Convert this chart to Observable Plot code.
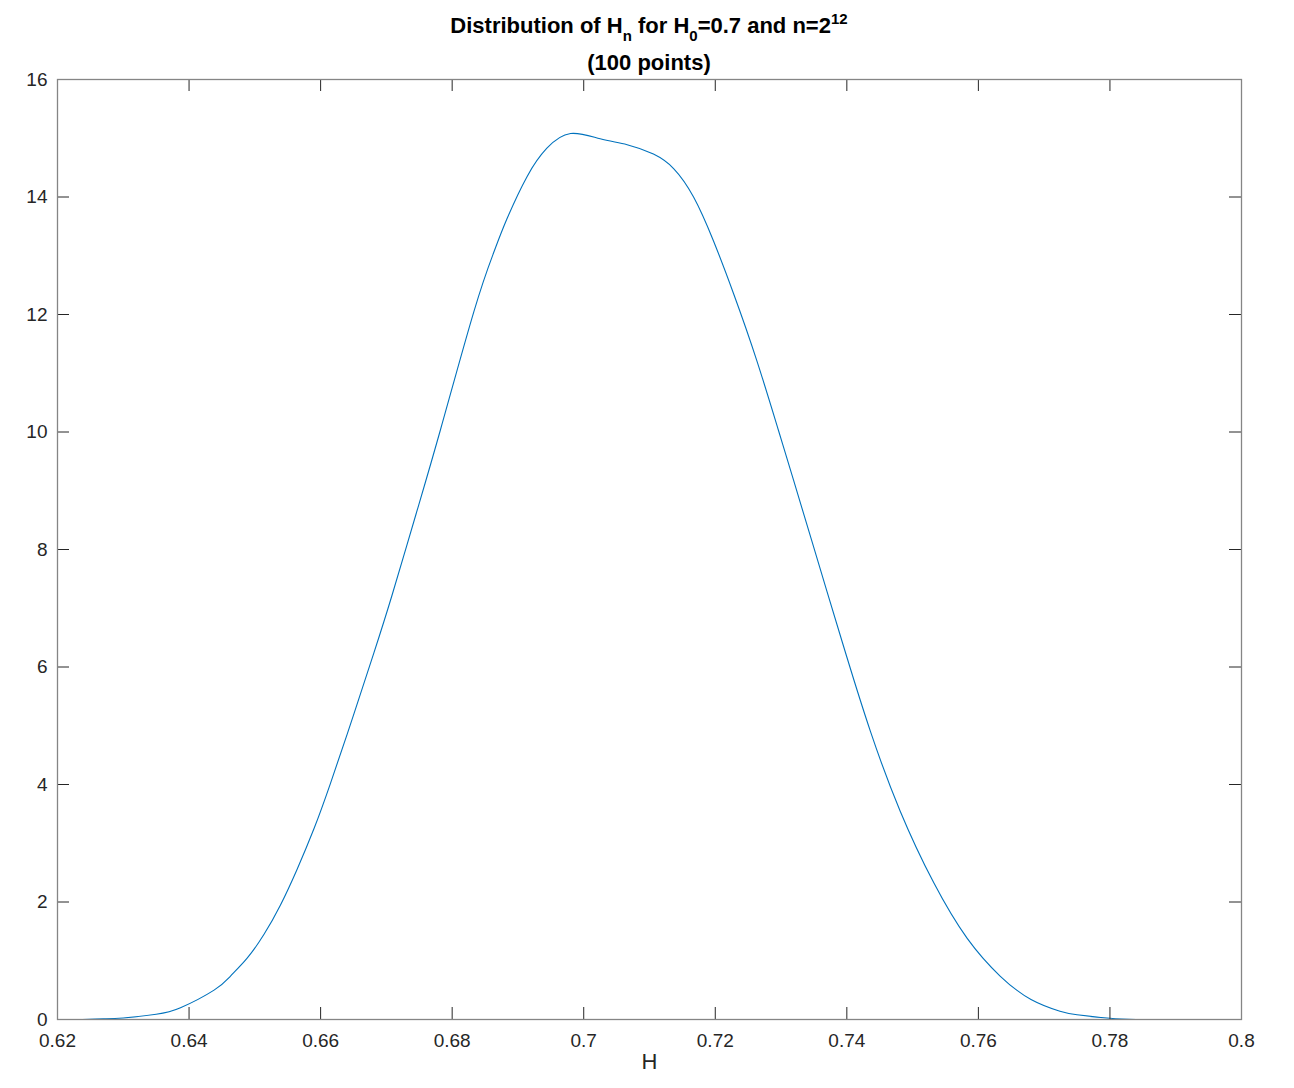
<!DOCTYPE html>
<html>
<head>
<meta charset="utf-8">
<script src="https://cdn.jsdelivr.net/npm/d3@7"></script>
<script src="https://cdn.jsdelivr.net/npm/@observablehq/plot@0.6"></script>
<style>
  html, body { margin: 0; padding: 0; background: #fff; }
  body { font-family: "Liberation Sans", Arial, Helvetica, sans-serif; width: 1294px; }
  #title { position: relative; width: 1294px; height: 70px; color: #000; }
  .tl { position: absolute; left: 57px; width: 1184px; text-align: center; font-weight: bold; font-size: 22px; line-height: 22px; white-space: nowrap; }
  .sb { position: relative; top: 8px; font-size: 15px; }
  .sp { position: relative; top: -9px; font-size: 15px; }
  #chart svg { display: block; }
</style>
</head>
<body>
<div id="title">
  <div class="tl" style="top:15px">Distribution of H<span class="sb">n</span> for H<span class="sb">0</span>=0.7 and n=2<span class="sp">12</span></div>
  <div class="tl" style="top:52px">(100 points)</div>
</div>
<div id="chart"></div>
<script>
// Estimated density of H_n
const hValues = [0.6238, 0.627, 0.630, 0.635, 0.6387, 0.6438, 0.6463, 0.6488, 0.6514, 0.6539,
  0.6564, 0.6590, 0.6615, 0.6650, 0.6681, 0.6708, 0.6745, 0.6782, 0.6833, 0.6863,
  0.6883, 0.6914, 0.6944, 0.6980, 0.7025, 0.7066, 0.7106, 0.7137, 0.7167, 0.7197,
  0.7228, 0.7263, 0.7296, 0.7319, 0.7370, 0.7400, 0.7436, 0.7481, 0.7532, 0.7583,
  0.7633, 0.7680, 0.7724, 0.7750, 0.7800, 0.7840];
const densityValues = [0, 0.01, 0.025, 0.09, 0.20, 0.50, 0.74, 1.04, 1.45, 1.95,
  2.55, 3.25, 4.02, 5.18, 6.24, 7.20, 8.60, 10.03, 12.05, 13.05,
  13.62, 14.35, 14.83, 15.08, 14.99, 14.89, 14.73, 14.48, 14.00, 13.26,
  12.35, 11.22, 10.03, 9.18, 7.28, 6.17, 4.90, 3.55, 2.33, 1.38,
  0.74, 0.34, 0.14, 0.08, 0.02, 0];
const xTickValues = [0.62, 0.64, 0.66, 0.68, 0.70, 0.72, 0.74, 0.76, 0.78, 0.80];
const yTickValues = [0, 2, 4, 6, 8, 10, 12, 14, 16];
const xLabel = "H";

const data = hValues.map((h, i) => ({h, d: densityValues[i]}));
const W = 1294, HT = 1018, MT = 9, MB = 69, ML = 57, MR = 53;
const PH = HT - MT - MB, PW = W - ML - MR, TICK = 12;
const fmt = d3.format("~g");

const chart = Plot.plot({
  width: W, height: HT,
  marginTop: MT, marginBottom: MB, marginLeft: ML, marginRight: MR,
  style: {fontFamily: "'Liberation Sans', Arial, Helvetica, sans-serif", fontSize: "19px", color: "#262626", background: "#fff"},
  x: {domain: [0.62, 0.8]},
  y: {domain: [0, 16]},
  marks: [
    Plot.line(data, {x: "h", y: "d", stroke: "#0072BD", strokeWidth: 1.1, curve: "natural"}),
    Plot.tickX(xTickValues, {x: d => d, insetTop: PH - TICK, stroke: "#262626", strokeWidth: 1}),
    Plot.tickX(xTickValues, {x: d => d, insetBottom: PH - TICK, stroke: "#262626", strokeWidth: 1}),
    Plot.tickY(yTickValues, {y: d => d, insetRight: PW - TICK, stroke: "#262626", strokeWidth: 1}),
    Plot.tickY(yTickValues, {y: d => d, insetLeft: PW - TICK, stroke: "#262626", strokeWidth: 1}),
    Plot.frame({stroke: "#858585", strokeWidth: 1.3}),
    Plot.axisX(xTickValues, {tickSize: 0, tickPadding: 14, tickFormat: fmt, fontSize: 19, label: null}),
    Plot.axisY(yTickValues, {tickSize: 0, tickPadding: 10, tickFormat: fmt, fontSize: 19, label: null}),
    Plot.text([xLabel], {frameAnchor: "bottom", dy: 49, fontSize: 22, fill: "#262626"})
  ]
});
document.getElementById("chart").appendChild(chart);
</script>
</body>
</html>
